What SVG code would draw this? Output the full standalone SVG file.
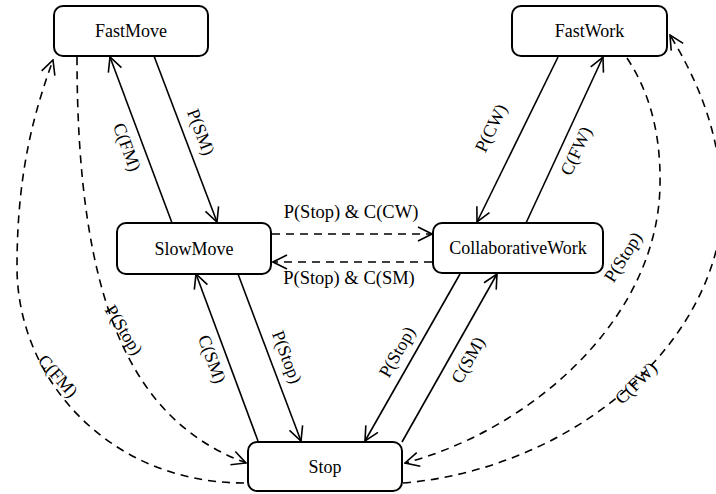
<svg xmlns="http://www.w3.org/2000/svg" width="716" height="494" viewBox="0 0 716 494" font-family="Liberation Serif, DejaVu Serif, serif">
<style>
.node rect{fill:#fff;stroke:#000;stroke-width:2}
text{font-family:'Liberation Serif','DejaVu Serif',serif;font-size:18px;fill:#000}
.nl{text-anchor:middle;dominant-baseline:central}
.lbl{text-anchor:middle;dominant-baseline:central;font-size:18px}
.c{fill:none;stroke:#000;stroke-width:1.6}
.d{stroke-dasharray:8,6}
</style>
<defs>
<marker id="ah" viewBox="0 0 16 16" refX="15" refY="8" markerWidth="16" markerHeight="16" markerUnits="userSpaceOnUse" orient="auto">
<path d="M1,1 L15,8 L1,15" fill="none" stroke="#000" stroke-width="1.6" stroke-dasharray="none"/>
</marker>
</defs>
<g id="connectors">
<line class="c" x1="154" y1="56" x2="217" y2="222" marker-end="url(#ah)"/>
<line class="c" x1="172" y1="223" x2="110" y2="57" marker-end="url(#ah)"/>
<line class="c" x1="238" y1="274" x2="301" y2="441" marker-end="url(#ah)"/>
<line class="c" x1="258" y1="441" x2="196" y2="274" marker-end="url(#ah)"/>
<line class="c" x1="460" y1="274" x2="365" y2="441" marker-end="url(#ah)"/>
<line class="c" x1="402" y1="442" x2="497" y2="274" marker-end="url(#ah)"/>
<line class="c" x1="558" y1="57" x2="477" y2="222" marker-end="url(#ah)"/>
<line class="c" x1="526" y1="223" x2="603" y2="57" marker-end="url(#ah)"/>
<line class="c d" x1="272" y1="234" x2="432" y2="234" marker-end="url(#ah)"/>
<line class="c d" x1="432" y1="262" x2="273" y2="262" marker-end="url(#ah)"/>
<path class="c d" d="M77,57 C77,300 130,420 246,463" marker-end="url(#ah)"/>
<path class="c d" d="M244,483 C110,483 17,380 17,267 C17,170 35,110 53,60" marker-end="url(#ah)"/>
<path class="c d" d="M627,58 C648,90 661,130 660,185 C658,320 530,430 405,463" marker-end="url(#ah)"/>
<path class="c d" d="M403,483 C560,470 705,360 722,220 C724,140 700,85 670,35" marker-end="url(#ah)"/>
<text class="lbl" transform="translate(201,132) rotate(69.2)">P(SM)</text>
<text class="lbl" transform="translate(127,147) rotate(69.6)">C(FM)</text>
<text class="lbl" transform="translate(287,357) rotate(69.3)">P(Stop)</text>
<text class="lbl" transform="translate(212,359) rotate(69.6)">C(SM)</text>
<text class="lbl" transform="translate(397,352) rotate(-60.4)">P(Stop)</text>
<text class="lbl" transform="translate(468,360) rotate(-60.5)">C(SM)</text>
<text class="lbl" transform="translate(491,128) rotate(-63.9)">P(CW)</text>
<text class="lbl" transform="translate(576,151) rotate(-65)">C(FW)</text>
<text class="lbl" transform="translate(124,330) rotate(58)">P(Stop)</text>
<text class="lbl" transform="translate(58,376) rotate(48.6)">C(FM)</text>
<text class="lbl" transform="translate(623,257) rotate(-58)">P(Stop)</text>
<text class="lbl" transform="translate(636,383) rotate(-45)">C(FW)</text>
<text x="351" y="218" text-anchor="middle" style="font-size:18.5px">P(Stop) &amp; C(CW)</text>
<text x="349" y="284" text-anchor="middle" style="font-size:18.5px">P(Stop) &amp; C(SM)</text>
</g>
<g id="FastMove" class="node"><rect x="54" y="6" width="154" height="50" rx="9"/><text class="nl" x="131" y="31">FastMove</text></g>
<g id="FastWork" class="node"><rect x="512" y="6" width="155" height="50" rx="9"/><text class="nl" x="589.5" y="31">FastWork</text></g>
<g id="SlowMove" class="node"><rect x="117" y="223" width="154" height="51" rx="9"/><text class="nl" x="194" y="248.5">SlowMove</text></g>
<g id="CollaborativeWork" class="node"><rect x="433" y="223" width="170" height="50" rx="9"/><text class="nl" x="518" y="248">CollaborativeWork</text></g>
<g id="Stop" class="node"><rect x="248" y="442" width="154" height="49" rx="9"/><text class="nl" x="325" y="466.5">Stop</text></g>
</svg>
